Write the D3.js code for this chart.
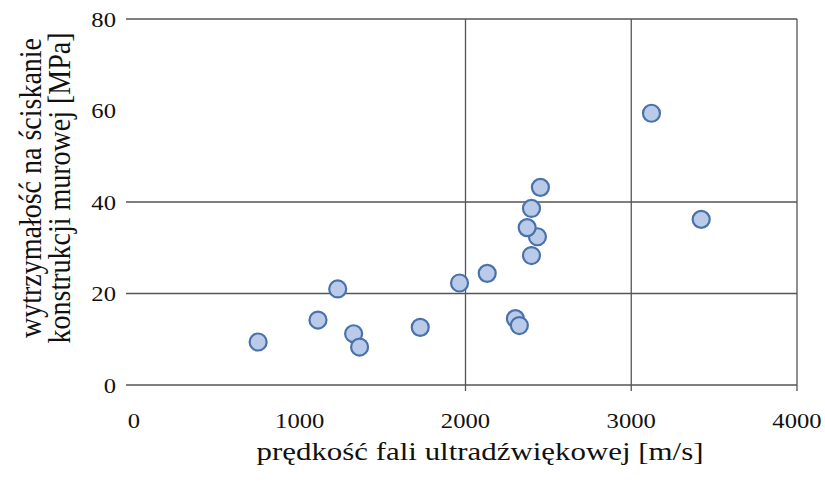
<!DOCTYPE html>
<html>
<head>
<meta charset="utf-8">
<script src="https://cdn.jsdelivr.net/npm/d3@7"></script>
<style>
  body { margin: 0; background: #fff; }
</style>
</head>
<body>
<div id="chart"></div>
<script>
// velocity of ultrasonic wave [m/s] vs compressive strength [MPa]
const velocity = [749, 1110, 1229, 1325, 1361, 1727, 1964, 2131, 2301, 2325,
                  2398, 2434, 2372, 2398, 2452, 3122, 3422];
const strength = [9.4, 14.2, 21.0, 11.2, 8.3, 12.6, 22.3, 24.4, 14.5, 13.0,
                  28.3, 32.4, 34.4, 38.6, 43.2, 59.4, 36.2];
const xTicks = [0, 1000, 2000, 3000, 4000];
const yTicks = [0, 20, 40, 60, 80];
const hGrid = [0, 20, 40, 80];      // lines visible in the original
const vGrid = [2000, 3000, 4000];
const xTitle = "prędkość fali ultradźwiękowej [m/s]";
const yTitle = ["wytrzymałość na ściskanie", "konstrukcji murowej [MPa]"];

const W = 825, H = 486;
const m = {top: 19, right: 28, bottom: 101, left: 134};
const stretch = 1.12; // original figure looks widened horizontally

const svg = d3.select("#chart").append("svg")
  .attr("width", W).attr("height", H)
  .attr("font-family", "Liberation Serif")
  .attr("fill", "#111");

const x = d3.scaleLinear().domain([0, 4000]).range([m.left, W - m.right]);
const y = d3.scaleLinear().domain([0, 80]).range([H - m.bottom, m.top]);

const lineColor = "#555";

// horizontal grid lines (with short tick to the left)
svg.append("g").selectAll("line")
  .data(hGrid).enter().append("line")
  .attr("x1", m.left - 8).attr("x2", x(4000))
  .attr("y1", d => y(d)).attr("y2", d => y(d))
  .attr("stroke", lineColor).attr("stroke-width", 1.3);

// vertical grid lines (with short tick below)
svg.append("g").selectAll("line")
  .data(vGrid).enter().append("line")
  .attr("x1", d => x(d)).attr("x2", d => x(d))
  .attr("y1", y(80)).attr("y2", y(0) + 6)
  .attr("stroke", lineColor).attr("stroke-width", 1.3);

// y tick labels
svg.append("g").selectAll("text")
  .data(yTicks).enter().append("text")
  .attr("transform", d => `translate(${m.left - 18},${y(d)}) scale(${stretch},1)`)
  .attr("dy", "0.35em")
  .attr("text-anchor", "end")
  .attr("font-size", 22)
  .text(d => d);

// x tick labels
svg.append("g").selectAll("text")
  .data(xTicks).enter().append("text")
  .attr("transform", d => `translate(${x(d)},${y(0) + 43}) scale(${stretch},1)`)
  .attr("text-anchor", "middle")
  .attr("font-size", 22)
  .text(d => d);

// axis titles
svg.append("text")
  .attr("transform", `translate(480,460) scale(${stretch},1)`)
  .attr("text-anchor", "middle")
  .attr("font-size", 26)
  .attr("textLength", 447 / stretch)
  .attr("lengthAdjust", "spacingAndGlyphs")
  .text(xTitle);

svg.append("g")
  .attr("transform", `translate(0,188) scale(${stretch},1) rotate(-90)`)
  .selectAll("text")
  .data(yTitle).enter().append("text")
  .attr("x", 0).attr("y", (d, i) => i ? 62.5 : 37)
  .attr("text-anchor", "middle")
  .attr("font-size", 28)
  .text(d => d);

// points
svg.append("g").selectAll("circle")
  .data(velocity.map((v, i) => [v, strength[i]])).enter().append("circle")
  .attr("cx", d => x(d[0])).attr("cy", d => y(d[1]))
  .attr("r", 8.5)
  .attr("fill", "#b9cbe9")
  .attr("stroke", "#4a72aa")
  .attr("stroke-width", 2.2);
</script>
</body>
</html>
